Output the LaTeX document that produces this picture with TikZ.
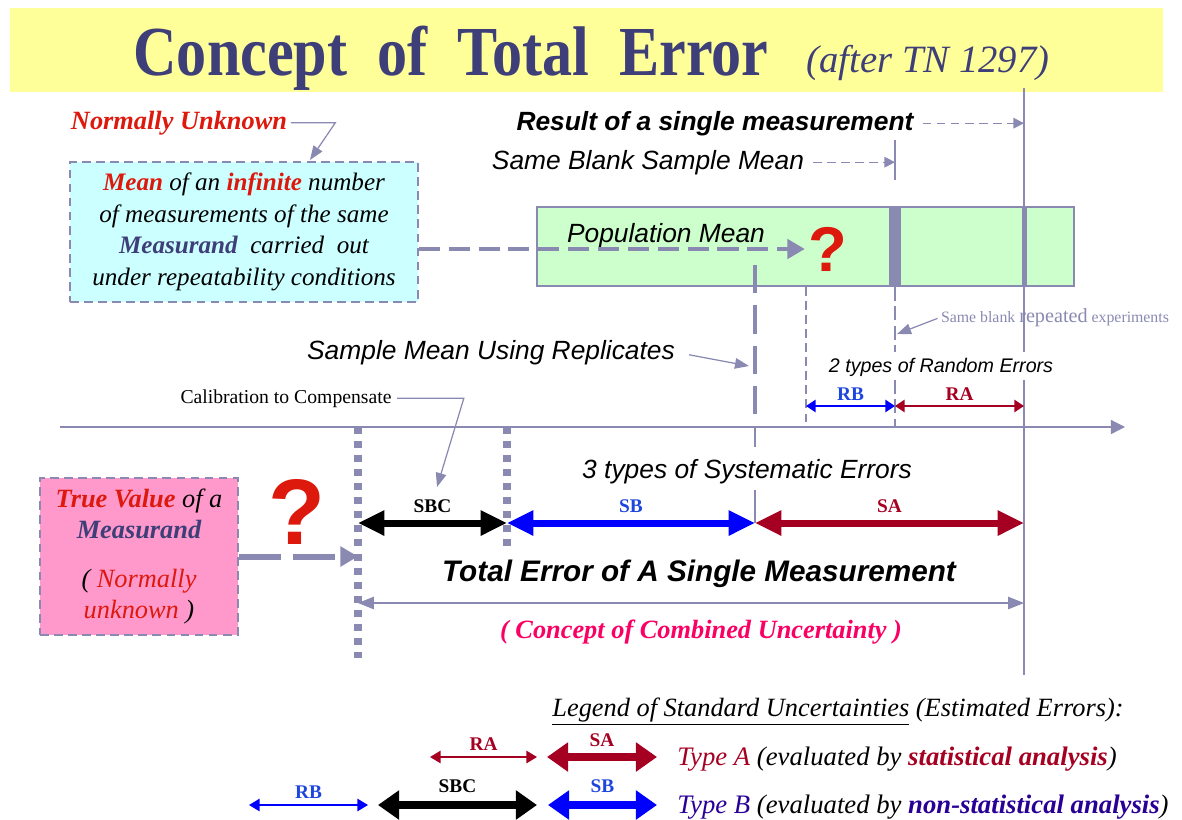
\documentclass[tikz,border=0pt]{standalone}
\usepackage{fontspec}
\setmainfont{Liberation Serif}
\setsansfont{Liberation Sans}
\usetikzlibrary{arrows.meta}
\definecolor{lav}{RGB}{137,137,178}
\definecolor{navy}{RGB}{62,62,120}
\definecolor{redt}{RGB}{221,24,12}
\definecolor{wine}{RGB}{165,0,33}
\definecolor{bluet}{RGB}{30,70,220}
\definecolor{pinkt}{RGB}{250,0,100}
\definecolor{indigo}{RGB}{40,0,150}
\definecolor{yel}{RGB}{255,255,153}
\definecolor{cyanb}{RGB}{204,255,255}
\definecolor{greenb}{RGB}{204,255,204}
\definecolor{pinkb}{RGB}{255,153,204}
\def\fs#1#2{\fontsize{#1}{#2}\selectfont}
\def\rd#1{\textcolor{redt}{\textbf{#1}}}
\def\nv#1{\textcolor{navy}{\textbf{#1}}}
\tikzset{
  txt/.style={inner sep=0pt},
  sans/.style={txt, font=\sffamily\itshape\fs{15}{18}},
  tag/.style={txt, font=\bfseries\fs{11}{13}},
  box/.style={draw=lav, line width=0.9pt, dash pattern=on 5pt off 3pt, inner sep=0pt, align=center},
  bigarr/.style={line width=4pt, {Triangle[length=15pt,width=13.5pt]}-{Triangle[length=15pt,width=13.5pt]}},
  smallarr/.style={line width=1.1pt, {Triangle[length=5.5pt,width=7pt]}-{Triangle[length=5.5pt,width=7pt]}},
  legthin/.style={line width=0.9pt, {Triangle[length=6pt,width=7pt]}-{Triangle[length=6pt,width=7pt]}},
  legbig/.style={line width=4.5pt, {Triangle[length=12pt,width=16pt]}-{Triangle[length=12pt,width=16pt]}},
  dashto/.style={draw=lav, line width=0.7pt, dash pattern=on 5pt off 3pt, -{Triangle[length=6pt,width=6pt]}, shorten <=5pt},
  fatdash/.style={draw=lav, line width=2.3pt, dash pattern=on 12pt off 5pt, -{Triangle[length=10pt,width=11pt]}},
  dotln/.style={draw=lav, line width=4pt, dash pattern=on 4pt off 4pt},
  vline/.style={draw=lav, line width=0.7pt}
}
\tikzstyle{pointer} = [draw=lav, line width=0.7pt, -{Triangle[length=8pt,width=6pt]}]

\begin{document}
\begin{tikzpicture}[x=0.02cm, y=-0.02cm]
    \useasboundingbox (0,0) rectangle (1182,819);
    \fill[yel] (10,8) rectangle (1163,92);
    \node[txt, anchor=base, text=navy, font=\bfseries\fs{40}{44}] (ttl) at (451,75) {\scalebox{0.856}[1]{Concept\ \ of\ \ Total\ \ Error}};
    \node[txt, anchor=base, text=navy, font=\itshape\fs{22}{26}] (tn) at (928,72) {(after TN 1297)};

    \draw[vline] (1024,88) -- (1024,352);
    \draw[vline] (1024,380) -- (1024,675);
    \draw[vline] (895,140) -- (895,180);
    \draw[vline, dash pattern=on 8pt off 3pt] (895,287) -- (895,352);
    \draw[vline, dash pattern=on 8pt off 3pt] (895,380) -- (895,427);
    \draw[vline, dash pattern=on 5pt off 3pt] (806,287) -- (806,427);

    \node[txt, anchor=base, text=redt, font=\bfseries\itshape\fs{15}{18}] (nu) at (179,129) {Normally Unknown};
    \node[box, fill=cyanb, minimum width=6.96cm, minimum height=2.8cm, font=\itshape\fs{14.3}{18}] (mean) at (244,232) {\rd{Mean} of an \rd{infinite} number\\of measurements of the same\\\nv{Measurand}\ \ carried\ \ out\\under repeatability conditions};
    \coordinate (nutip) at (310,160);
    \draw[pointer, shorten <=2pt] (nu.east) -- ++(48,0) -- (nutip);

    \node[draw=lav, fill=greenb, line width=0.8pt, minimum width=10.74cm, minimum height=1.58cm, inner sep=0pt] (pop) at (805.5,246.5) {};
    \fill[lav] (889,207) rectangle (901,286);
    \fill[lav] (1021.5,207) rectangle (1026.5,286);
    \node[sans, anchor=base] (popm) at (666,242) {Population Mean};
    \node[txt, text=redt, font=\sffamily\bfseries\fs{36}{40}] (q1) at (828,249) {?};
    \draw[fatdash, shorten >=2pt] (mean.east |- q1) -- (q1.west);

    \node[sans, font=\sffamily\bfseries\itshape\fs{15}{18}, anchor=base] (res) at (715,130) {Result of a single measurement};
    \node[sans, anchor=base] (sbm) at (648,169) {Same Blank Sample Mean};
    \coordinate (r0) at (806,406);
    \coordinate (r1) at (895,406);
    \coordinate (r2) at (1024,406);
    \draw[dashto] (res.east) -- (res.east -| r2);
    \draw[dashto] (sbm.east) -- (sbm.east -| r1);

    \node[txt, text=lav, font=\fs{9}{11}, anchor=base] (sbr) at (1055,322) {Same blank {\fs{11.5}{13}repeated} experiments};
    \coordinate (sbrtip) at (897,334);
    \draw[pointer, shorten <=2pt] (sbr.west) -- (sbrtip);

    \node[sans, anchor=base] (smr) at (491,359) {Sample Mean Using Replicates};
    \coordinate (smrtip) at (749,366);
    \draw[pointer, shorten <=8pt] (smr.east) -- (smrtip);

    \node[sans, font=\sffamily\itshape\fs{11.2}{13}, anchor=base] (rnd) at (941,372) {2 types of Random Errors};
    \draw[smallarr, blue] (r0) -- node[tag, text=bluet, above=2.5pt] {RB} (r1);
    \draw[smallarr, wine] (r1) -- node[tag, text=wine, above=2.5pt] {RA} (r2);

    \node[txt, font=\fs{11.2}{13}, anchor=base] (cal) at (286,403) {Calibration to Compensate};
    \coordinate (caltip) at (437,487);
    \draw[pointer, shorten <=3pt] (cal.east) -- ++(72,0) -- (caltip);

    \coordinate (ax0) at (60,427);
    \coordinate (ax1) at (1125,427);
    \draw[vline, -{Triangle[length=8pt,width=8pt]}] (ax0) -- (ax1);
    \draw[lav, line width=2.8pt, dash pattern=on 16pt off 7pt] (755,265) -- (755,427);
    \draw[vline] (755,427) -- (755,447);
    \draw[vline] (755,490) -- (755,523);
    \draw[dotln] (358,427) -- (358,658);
    \draw[dotln] (507,427) -- (507,552);

    \node[sans, anchor=base] (sys) at (747,478) {3 types of Systematic Errors};
    \coordinate (s0) at (358,523);
    \coordinate (s1) at (507,523);
    \coordinate (s2) at (755,523);
    \coordinate (s3) at (1024,523);
    \draw[bigarr, black] (s0) -- node[tag, above=4pt] {SBC} (s1);
    \draw[bigarr, blue] (s1) -- node[tag, text=bluet, above=4pt] {SB} (s2);
    \draw[bigarr, wine] (s2) -- node[tag, text=wine, above=4pt] {SA} (s3);

    \node[sans, font=\sffamily\bfseries\itshape\fs{16.9}{20}, anchor=base] (tot) at (699,581) {Total Error of A Single Measurement};
    \coordinate (c0) at (358,603);
    \coordinate (c1) at (1024,603);
    \draw[vline, {Triangle[length=9pt,width=7pt]}-{Triangle[length=9pt,width=7pt]}] (c0) -- (c1);
    \node[txt, text=pinkt, font=\bfseries\itshape\fs{15}{18}, anchor=base] (comb) at (701,638) {( Concept of Combined Uncertainty )};

    \node[box, fill=pinkb, minimum width=3.96cm, minimum height=3.14cm, font=\itshape\fs{15}{17.8}] (tv) at (139,556.5) {\rd{True Value} of a\\\nv{Measurand}\\[10pt]( \textcolor{redt}{Normally}\\\textcolor{redt}{unknown} )};
    \node[txt, text=redt, font=\sffamily\bfseries\fs{53}{58}] (q2) at (297,512) {?};
    \draw[fatdash, line width=3.4pt, dash pattern=on 24pt off 7pt] (tv.east) -- (tv.east -| s0);

    \node[txt, font=\itshape\fs{15}{18}, anchor=base] (leg) at (838,716) {\underline{Legend of Standard Uncertainties} (Estimated Errors):};
    \coordinate (la0) at (430,757);
    \coordinate (la1) at (537,757);
    \coordinate (la2) at (547,757);
    \coordinate (la3) at (657,757);
    \draw[legthin, wine] (la0) -- node[tag, text=wine, above=3.5pt] {RA} (la1);
    \draw[legbig, wine] (la2) -- node[tag, text=wine, above=3.5pt] {SA} (la3);
    \node[txt, font=\itshape\fs{15.2}{18}, anchor=base west] (ta) at (677,765) {\textcolor{wine}{Type A} (evaluated by \textcolor{wine}{\textbf{statistical analysis}})};
    \coordinate (lb0) at (249,805);
    \coordinate (lb1) at (368,805);
    \coordinate (lb2) at (378,805);
    \coordinate (lb3) at (537,805);
    \coordinate (lb4) at (548,805);
    \coordinate (lb5) at (657,805);
    \draw[legthin, blue] (lb0) -- node[tag, text=bluet, above=3.5pt] {RB} (lb1);
    \draw[legbig, black] (lb2) -- node[tag, above=4.5pt] {SBC} (lb3);
    \draw[legbig, blue] (lb4) -- node[tag, text=bluet, above=4.5pt] {SB} (lb5);
    \node[txt, font=\itshape\fs{15.2}{18}, anchor=base west] (tb) at (677,813) {\textcolor{indigo}{Type B} (evaluated by \textcolor{indigo}{\textbf{non-statistical analysis}})};
\end{tikzpicture}
\end{document}
